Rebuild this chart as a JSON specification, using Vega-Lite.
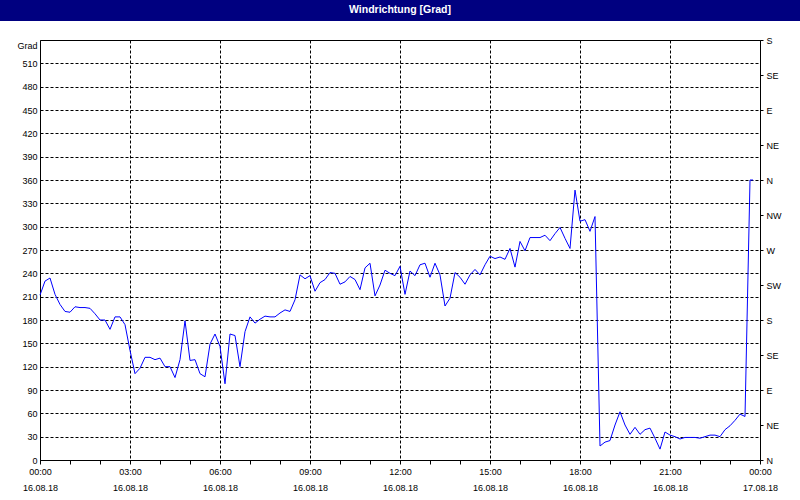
{
  "$schema": "https://vega.github.io/schema/vega-lite/v6.json",
  "background": "white",
  "padding": 0,
  "spacing": 19,
  "bounds": "flush",
  "center": true,
  "vconcat": [
    {
      "width": 800,
      "height": 21,
      "view": {"fill": "#000080", "stroke": null},
      "data": {"values": [{"title": "Windrichtung [Grad]"}]},
      "mark": {"type": "text", "color": "white", "fontWeight": "bold", "fontSize": 10.5, "font": "Liberation Sans", "baseline": "middle", "dy": -1},
      "encoding": {"text": {"field": "title", "type": "nominal"}}
    },
    {
      "width": 720,
      "height": 420,
      "data": {"values": [
        {"t": "2018-08-16T00:00Z", "v": 212}, {"t": "2018-08-16T00:10Z", "v": 230}, {"t": "2018-08-16T00:20Z", "v": 234}, {"t": "2018-08-16T00:30Z", "v": 213},
        {"t": "2018-08-16T00:40Z", "v": 200}, {"t": "2018-08-16T00:50Z", "v": 191}, {"t": "2018-08-16T01:00Z", "v": 190}, {"t": "2018-08-16T01:10Z", "v": 197},
        {"t": "2018-08-16T01:20Z", "v": 196}, {"t": "2018-08-16T01:30Z", "v": 196}, {"t": "2018-08-16T01:40Z", "v": 195}, {"t": "2018-08-16T01:50Z", "v": 188},
        {"t": "2018-08-16T02:00Z", "v": 180}, {"t": "2018-08-16T02:10Z", "v": 180}, {"t": "2018-08-16T02:20Z", "v": 168}, {"t": "2018-08-16T02:30Z", "v": 184},
        {"t": "2018-08-16T02:40Z", "v": 184}, {"t": "2018-08-16T02:50Z", "v": 174}, {"t": "2018-08-16T03:00Z", "v": 141}, {"t": "2018-08-16T03:10Z", "v": 111},
        {"t": "2018-08-16T03:20Z", "v": 118}, {"t": "2018-08-16T03:30Z", "v": 132}, {"t": "2018-08-16T03:40Z", "v": 132}, {"t": "2018-08-16T03:50Z", "v": 129},
        {"t": "2018-08-16T04:00Z", "v": 131}, {"t": "2018-08-16T04:10Z", "v": 120}, {"t": "2018-08-16T04:20Z", "v": 120}, {"t": "2018-08-16T04:30Z", "v": 106},
        {"t": "2018-08-16T04:40Z", "v": 129}, {"t": "2018-08-16T04:50Z", "v": 179}, {"t": "2018-08-16T05:00Z", "v": 128}, {"t": "2018-08-16T05:10Z", "v": 129},
        {"t": "2018-08-16T05:20Z", "v": 111}, {"t": "2018-08-16T05:30Z", "v": 107}, {"t": "2018-08-16T05:40Z", "v": 149}, {"t": "2018-08-16T05:50Z", "v": 162},
        {"t": "2018-08-16T06:00Z", "v": 146}, {"t": "2018-08-16T06:10Z", "v": 98}, {"t": "2018-08-16T06:20Z", "v": 162}, {"t": "2018-08-16T06:30Z", "v": 160},
        {"t": "2018-08-16T06:40Z", "v": 120}, {"t": "2018-08-16T06:50Z", "v": 165}, {"t": "2018-08-16T07:00Z", "v": 184}, {"t": "2018-08-16T07:10Z", "v": 176},
        {"t": "2018-08-16T07:20Z", "v": 181}, {"t": "2018-08-16T07:30Z", "v": 185}, {"t": "2018-08-16T07:40Z", "v": 184}, {"t": "2018-08-16T07:50Z", "v": 184},
        {"t": "2018-08-16T08:00Z", "v": 189}, {"t": "2018-08-16T08:10Z", "v": 193}, {"t": "2018-08-16T08:20Z", "v": 191}, {"t": "2018-08-16T08:30Z", "v": 206},
        {"t": "2018-08-16T08:40Z", "v": 238}, {"t": "2018-08-16T08:50Z", "v": 233}, {"t": "2018-08-16T09:00Z", "v": 237}, {"t": "2018-08-16T09:10Z", "v": 217},
        {"t": "2018-08-16T09:20Z", "v": 228}, {"t": "2018-08-16T09:30Z", "v": 232}, {"t": "2018-08-16T09:40Z", "v": 241}, {"t": "2018-08-16T09:50Z", "v": 240},
        {"t": "2018-08-16T10:00Z", "v": 226}, {"t": "2018-08-16T10:10Z", "v": 229}, {"t": "2018-08-16T10:20Z", "v": 236}, {"t": "2018-08-16T10:30Z", "v": 232},
        {"t": "2018-08-16T10:40Z", "v": 219}, {"t": "2018-08-16T10:50Z", "v": 247}, {"t": "2018-08-16T11:00Z", "v": 253}, {"t": "2018-08-16T11:10Z", "v": 211},
        {"t": "2018-08-16T11:20Z", "v": 225}, {"t": "2018-08-16T11:30Z", "v": 244}, {"t": "2018-08-16T11:40Z", "v": 240}, {"t": "2018-08-16T11:50Z", "v": 237},
        {"t": "2018-08-16T12:00Z", "v": 249}, {"t": "2018-08-16T12:10Z", "v": 213}, {"t": "2018-08-16T12:20Z", "v": 243}, {"t": "2018-08-16T12:30Z", "v": 237},
        {"t": "2018-08-16T12:40Z", "v": 251}, {"t": "2018-08-16T12:50Z", "v": 253}, {"t": "2018-08-16T13:00Z", "v": 235}, {"t": "2018-08-16T13:10Z", "v": 253},
        {"t": "2018-08-16T13:20Z", "v": 238}, {"t": "2018-08-16T13:30Z", "v": 198}, {"t": "2018-08-16T13:40Z", "v": 208}, {"t": "2018-08-16T13:50Z", "v": 241},
        {"t": "2018-08-16T14:00Z", "v": 235}, {"t": "2018-08-16T14:10Z", "v": 226}, {"t": "2018-08-16T14:20Z", "v": 238}, {"t": "2018-08-16T14:30Z", "v": 245},
        {"t": "2018-08-16T14:40Z", "v": 238}, {"t": "2018-08-16T14:50Z", "v": 251}, {"t": "2018-08-16T15:00Z", "v": 262}, {"t": "2018-08-16T15:10Z", "v": 259},
        {"t": "2018-08-16T15:20Z", "v": 261}, {"t": "2018-08-16T15:30Z", "v": 258}, {"t": "2018-08-16T15:40Z", "v": 272}, {"t": "2018-08-16T15:50Z", "v": 248},
        {"t": "2018-08-16T16:00Z", "v": 281}, {"t": "2018-08-16T16:10Z", "v": 269}, {"t": "2018-08-16T16:20Z", "v": 286}, {"t": "2018-08-16T16:30Z", "v": 286},
        {"t": "2018-08-16T16:40Z", "v": 286}, {"t": "2018-08-16T16:50Z", "v": 289}, {"t": "2018-08-16T17:00Z", "v": 282}, {"t": "2018-08-16T17:10Z", "v": 291},
        {"t": "2018-08-16T17:20Z", "v": 299}, {"t": "2018-08-16T17:30Z", "v": 285}, {"t": "2018-08-16T17:40Z", "v": 272}, {"t": "2018-08-16T17:50Z", "v": 347},
        {"t": "2018-08-16T18:00Z", "v": 307}, {"t": "2018-08-16T18:10Z", "v": 309}, {"t": "2018-08-16T18:20Z", "v": 294}, {"t": "2018-08-16T18:30Z", "v": 313},
        {"t": "2018-08-16T18:40Z", "v": 18}, {"t": "2018-08-16T18:50Z", "v": 23}, {"t": "2018-08-16T19:00Z", "v": 25}, {"t": "2018-08-16T19:10Z", "v": 45},
        {"t": "2018-08-16T19:20Z", "v": 62}, {"t": "2018-08-16T19:30Z", "v": 45}, {"t": "2018-08-16T19:40Z", "v": 33}, {"t": "2018-08-16T19:50Z", "v": 42},
        {"t": "2018-08-16T20:00Z", "v": 33}, {"t": "2018-08-16T20:10Z", "v": 39}, {"t": "2018-08-16T20:20Z", "v": 41}, {"t": "2018-08-16T20:30Z", "v": 28},
        {"t": "2018-08-16T20:40Z", "v": 14}, {"t": "2018-08-16T20:50Z", "v": 36}, {"t": "2018-08-16T21:00Z", "v": 32}, {"t": "2018-08-16T21:10Z", "v": 30},
        {"t": "2018-08-16T21:20Z", "v": 27}, {"t": "2018-08-16T21:30Z", "v": 29}, {"t": "2018-08-16T21:40Z", "v": 29}, {"t": "2018-08-16T21:50Z", "v": 29},
        {"t": "2018-08-16T22:00Z", "v": 28}, {"t": "2018-08-16T22:10Z", "v": 30}, {"t": "2018-08-16T22:20Z", "v": 32}, {"t": "2018-08-16T22:30Z", "v": 32},
        {"t": "2018-08-16T22:40Z", "v": 30}, {"t": "2018-08-16T22:50Z", "v": 39}, {"t": "2018-08-16T23:00Z", "v": 44}, {"t": "2018-08-16T23:10Z", "v": 51},
        {"t": "2018-08-16T23:20Z", "v": 59}, {"t": "2018-08-16T23:30Z", "v": 56}, {"t": "2018-08-16T23:40Z", "v": 360}, {"t": "2018-08-16T23:46Z", "v": 360}
      ]},
      "layer": [
        {
          "mark": {"type": "line", "color": "#0000ff", "strokeWidth": 1},
          "encoding": {
            "x": {
              "field": "t", "type": "temporal",
              "scale": {"type": "utc", "domain": [1534377600000, 1534464000000], "nice": false},
              "axis": {
                "orient": "bottom",
                "title": null,
                "values": [1534377600000, 1534381200000, 1534384800000, 1534388400000, 1534392000000, 1534395600000, 1534399200000, 1534402800000, 1534406400000, 1534410000000, 1534413600000, 1534417200000, 1534420800000, 1534424400000, 1534428000000, 1534431600000, 1534435200000, 1534438800000, 1534442400000, 1534446000000, 1534449600000, 1534453200000, 1534456800000, 1534460400000, 1534464000000],
                "tickSize": 4,
                "labelPadding": 3,
                "labelLineHeight": 16,
                "labelOverlap": false,
                "labelFlush": false,
                "labelBound": false,
                "labelExpr": "utchours(datum.value) % 3 === 0 ? [utcFormat(datum.value, '%H:%M'), utcFormat(datum.value, '%d.%m.%y')] : ''",
                "grid": false
              }
            },
            "y": {
              "field": "v", "type": "quantitative",
              "scale": {"domain": [0, 540], "nice": false, "zero": false},
              "axis": {
                "values": [0, 30, 60, 90, 120, 150, 180, 210, 240, 270, 300, 330, 360, 390, 420, 450, 480, 510],
                "ticks": false,
                "labelPadding": 3,
                "grid": true,
                "gridColor": "black",
                "gridDash": [3, 2],
                "title": "Grad",
                "titleAngle": 0,
                "titleAlign": "right",
                "titleBaseline": "middle",
                "titleX": -3,
                "titleY": 5,
                "titleFontWeight": "normal",
                "titleFontSize": 9,
                "titleFont": "Liberation Sans",
                "titleColor": "black"
              }
            }
          }
        },
        {
          "mark": {"type": "line", "strokeOpacity": 0},
          "encoding": {
            "x": {
              "field": "t", "type": "temporal",
              "scale": {"type": "utc", "domain": [1534377600000, 1534464000000], "nice": false},
              "axis": {
                "orient": "bottom",
                "title": null,
                "values": [1534388400000, 1534399200000, 1534410000000, 1534420800000, 1534431600000, 1534442400000, 1534453200000],
                "labels": false,
                "ticks": false,
                "domain": false,
                "grid": true,
                "gridColor": "black",
                "gridDash": [3, 2]
              }
            },
            "y": {
              "field": "v", "type": "quantitative",
              "scale": {"domain": [0, 540], "nice": false, "zero": false},
              "axis": {
                "orient": "right",
                "values": [0, 45, 90, 135, 180, 225, 270, 315, 360, 405, 450, 495, 540],
                "labelExpr": "datum.value % 360 === 0 ? 'N' : datum.value % 360 === 45 ? 'NE' : datum.value % 360 === 90 ? 'E' : datum.value % 360 === 135 ? 'SE' : datum.value % 360 === 180 ? 'S' : datum.value % 360 === 225 ? 'SW' : datum.value % 360 === 270 ? 'W' : 'NW'",
                "tickSize": 3,
                "labelPadding": 3,
                "grid": false,
                "title": null
              }
            }
          }
        }
      ],
      "resolve": {"scale": {"y": "independent"}, "axis": {"x": "independent"}}
    }
  ],
  "config": {
    "view": {"stroke": "black", "strokeWidth": 1},
    "axis": {
      "labelFont": "Liberation Sans",
      "labelFontSize": 9,
      "labelColor": "black",
      "domainColor": "black",
      "tickColor": "black",
      "domainWidth": 1
    }
  }
}
